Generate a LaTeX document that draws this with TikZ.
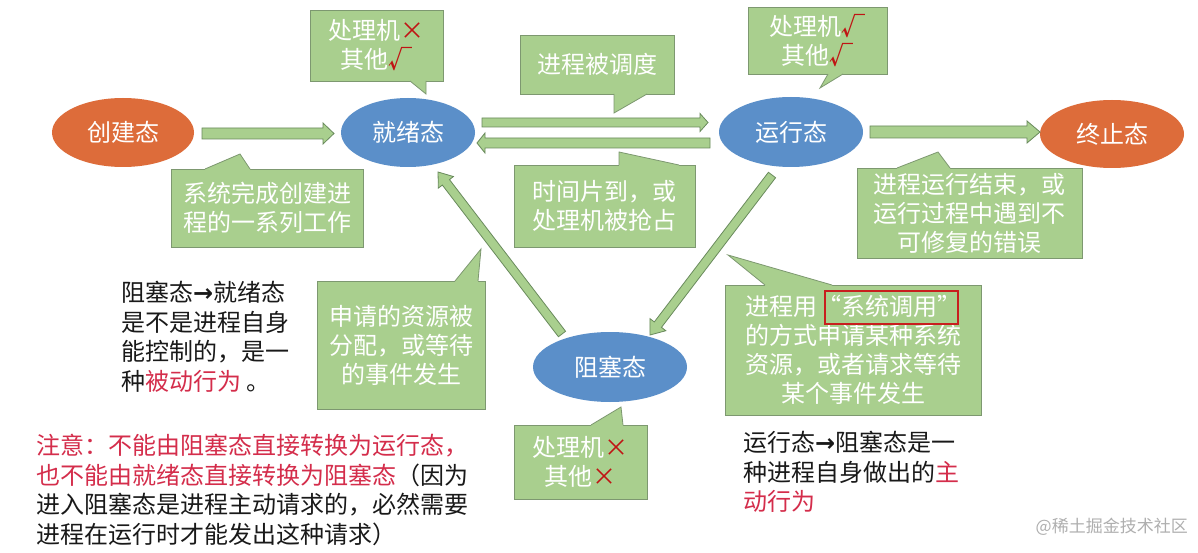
\documentclass[tikz,border=0pt]{standalone}
\usepackage{fontspec}
\setmainfont{Noto Sans CJK SC}
\newfontfamily\dejavu{DejaVu Sans}
\usetikzlibrary{shapes.geometric,calc}
\definecolor{cgreen}{RGB}{169,207,142}
\definecolor{cborder}{RGB}{125,152,112}
\definecolor{aborder}{RGB}{105,138,92}
\definecolor{sorange}{RGB}{221,108,58}
\definecolor{sblue}{RGB}{91,143,201}
\definecolor{xred}{RGB}{192,20,20}
\definecolor{tred}{RGB}{212,45,75}
\definecolor{tblack}{RGB}{25,25,25}
\definecolor{wgray}{RGB}{175,175,175}
\definecolor{boxred}{RGB}{200,30,30}
\newcommand\redmark[1]{\textcolor{xred}{#1}}
\newcommand\redchk{\textcolor{xred}{\bfseries √}}
\newcommand\redtxt[1]{\textcolor{tred}{#1}}
\newcommand\boldarr{{\dejavu\bfseries →}}
% block arrow: from, to, shaft half width, head half width, head length
\newcommand\blockarr[5]{%
  \coordinate (bah) at ($(#2)!#5!(#1)$);
  \filldraw[barrow] ($(#1)!#3!90:(#2)$) -- ($(bah)!#3!90:(#2)$) -- ($(bah)!#4!90:(#2)$) -- (#2)
    -- ($(bah)!#4!-90:(#2)$) -- ($(bah)!#3!-90:(#2)$) -- ($(#1)!#3!-90:(#2)$) -- cycle;}
% callout tail: base1, tip, base2, inward offset
\newcommand\ctail[4]{%
  \fill[cgreen] ($#1+(0,#4)$) -- #1 -- #2 -- #3 -- ($#3+(0,#4)$) -- cycle;
  \draw[cedge] #1 -- #2 -- #3;}
\begin{document}
\begin{tikzpicture}[x=1pt,y=-1pt,
  cbox/.style={draw=cborder, fill=cgreen, line width=0.8pt, text=white, align=center,
    inner sep=0pt, font=\fontsize{24}{29}\selectfont},
  cedge/.style={draw=cborder, line width=0.8pt, line join=miter},
  statenode/.style={ellipse, inner sep=0pt, text=white, font=\fontsize{24}{29}\selectfont},
  barrow/.style={draw=aborder, fill=cgreen, line width=0.8pt, line join=miter},
  plaintext/.style={inner sep=0pt, align=left, text=tblack, font=\fontsize{24}{29.5}\selectfont}]
\fill[white] (0,0) rectangle (1198,553);
\useasboundingbox (0,0) rectangle (1198,553);

% states
\node[statenode, fill=sorange, minimum width=142pt, minimum height=69pt] (create) at (123,132.5) {创建态};
\node[statenode, fill=sblue, minimum width=134pt, minimum height=69pt] (ready) at (408,132.5) {就绪态};
\node[statenode, fill=sblue, minimum width=144pt, minimum height=70pt] (run) at (791,132) {运行态};
\node[statenode, fill=sorange, minimum width=144pt, minimum height=68pt] (term) at (1112,134) {终止态};
\node[statenode, fill=sblue, minimum width=154pt, minimum height=70pt] (block) at (610,367) {阻塞态};

% arrow end points
\coordinate (a1s) at (202,133.5); \coordinate (a1e) at (334,133.5);
\coordinate (a2s) at (482,122.5); \coordinate (a2e) at (708,122.5);
\coordinate (a3s) at (710,143);   \coordinate (a3e) at (477,143);
\coordinate (a4s) at (870,132);   \coordinate (a4e) at (1040,132);
\coordinate (a5s) at (772,175);   \coordinate (a5e) at (650,335);
\coordinate (a6s) at (562,334);   \coordinate (a6e) at (438,172);
\blockarr{a1s}{a1e}{5.5pt}{10.5pt}{11pt}
\blockarr{a2s}{a2e}{4.5pt}{9pt}{8pt}
\blockarr{a3s}{a3e}{5pt}{10pt}{8pt}
\blockarr{a4s}{a4e}{6pt}{11pt}{13pt}
\blockarr{a5s}{a5e}{4.5pt}{10pt}{13pt}
\blockarr{a6s}{a6e}{4.5pt}{9.5pt}{13pt}

% callouts
\node[cbox, minimum width=133pt, minimum height=71pt] (c1) at (376.5,45.5) {处理机\redmark{×}\\其他\redchk};
\ctail{(410,81)}{(426,94)}{(426,81)}{-1.5}
\node[cbox, minimum width=192pt, minimum height=78pt] (c2) at (267,208) {系统完成创建进\\程的一系列工作};
\ctail{(205,169)}{(240,154)}{(250,169)}{1.5}
\node[cbox, minimum width=154pt, minimum height=59pt] (c3) at (597,64.5) {进程被调度};
\ctail{(614,94)}{(614,113)}{(647,94)}{-1.5}
\node[cbox, minimum width=139pt, minimum height=67pt] (c4) at (817.5,40.5) {处理机\redchk\\其他\redchk};
\ctail{(828,74)}{(820,88)}{(843,74)}{-1.5}
\node[cbox, minimum width=181pt, minimum height=82pt] (c5) at (604.5,206) {时间片到，或\\处理机被抢占};
\ctail{(619,165)}{(619,152)}{(679,165)}{1.5}
\node[cbox, minimum width=225pt, minimum height=90pt] (c6) at (969.5,213) {进程运行结束，或\\运行过程中遇到不\\可修复的错误};
\ctail{(897,168)}{(938,152)}{(950,168)}{1.5}
\node[cbox, minimum width=168pt, minimum height=128pt] (c7) at (401,345) {申请的资源被\\分配，或等待\\的事件发生};
\ctail{(455,281)}{(481,249)}{(478,281)}{1.5}
\node[cbox, minimum width=133pt, minimum height=74pt] (c8) at (580.5,462) {处理机\redmark{×}\\其他\redmark{×}};
\ctail{(591,425)}{(621,407)}{(623,425)}{1.5}
\node[cbox, minimum width=256pt, minimum height=130pt] (c9) at (853,350) {进程用“系统调用”\\的方式申请某种系统\\资源，或者请求等待\\某个事件发生};
\ctail{(765,285)}{(728,255)}{(832,285)}{1.5}
\node[draw=boxred, line width=1.6pt, minimum width=133pt, minimum height=33pt, inner sep=0pt] (sysbox) at (891.5,307.5) {};

% plain texts
\node[plaintext, anchor=north west] (t1) at (121,281) {阻塞态\boldarr 就绪态\\是不是进程自身\\能控制的，是一\\种\redtxt{被动行为} 。};
\node[plaintext, anchor=north west] (t2) at (36,434) {\redtxt{注意：不能由阻塞态直接转换为运行态，}\\\redtxt{也不能由就绪态直接转换为阻塞态}（因为\\进入阻塞态是进程主动请求的，必然需要\\进程在运行时才能发出这种请求）};
\node[plaintext, anchor=north west] (t3) at (743,431) {运行态\boldarr 阻塞态是一\\种进程自身做出的\redtxt{主}\\\redtxt{动行为}};
\node[anchor=east, inner sep=0pt, text=wgray, font=\fontsize{17}{20}\selectfont] (wm) at (1188,527) {@稀土掘金技术社区};
\end{tikzpicture}
\end{document}
